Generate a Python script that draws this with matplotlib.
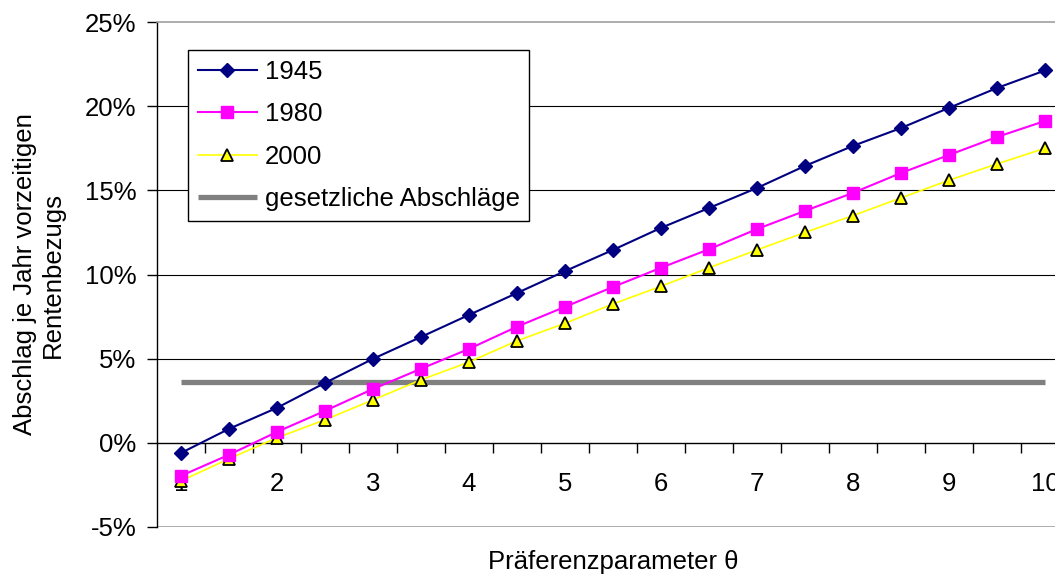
import matplotlib.pyplot as plt
from matplotlib.ticker import FixedLocator, FuncFormatter

plt.rcParams['font.family'] = ['Liberation Sans', 'DejaVu Sans']

# Praeferenzparameter theta (category axis, 19 points)
theta = [1, 1.5, 2, 2.5, 3, 3.5, 4, 4.5, 5, 5.5, 6, 6.5, 7, 7.5, 8, 8.5, 9, 9.5, 10]

# Abschlag je Jahr in %
s1945 = [-0.6, 0.83, 2.08, 3.56, 4.99, 6.29, 7.6, 8.9, 10.2, 11.46,
         12.77, 13.95, 15.14, 16.45, 17.64, 18.7, 19.9, 21.08, 22.12]
s1980 = [-1.96, -0.71, 0.65, 1.9, 3.2, 4.4, 5.58, 6.9, 8.08, 9.26,
         10.4, 11.5, 12.7, 13.78, 14.85, 16.03, 17.1, 18.17, 19.12]
s2000 = [-2.26, -0.95, 0.3, 1.37, 2.55, 3.74, 4.8, 6.06, 7.1, 8.25,
         9.3, 10.4, 11.46, 12.5, 13.5, 14.55, 15.6, 16.57, 17.5]
gesetzlich = [3.6] * len(theta)

xticks = [1, 2, 3, 4, 5, 6, 7, 8, 9, 10]
yticks = [-5, 0, 5, 10, 15, 20, 25]

W, H = 1055, 574
fig = plt.figure(figsize=(W / 100, H / 100), dpi=100)
ax = fig.add_axes([157 / W, 1 - 527 / H, 912 / W, 505 / H])

# grid lines
for v in yticks[2:-1]:
    ax.axhline(v, color='black', lw=0.8, zorder=1)
ax.axhline(-5, color='#a0a0a0', lw=1.2, zorder=1)

ax.plot(theta, gesetzlich, color='#808080', lw=3.8, solid_capstyle='butt',
        label='gesetzliche Abschläge', zorder=2)
ax.plot(theta, s2000, color='#ffff00', lw=1.2, marker='^', ms=9,
        mfc='#ffff00', mec='black', mew=1.3, label='2000', zorder=4)
ax.plot(theta, s1980, color='#ff00ff', lw=1.5, marker='s', ms=8,
        mfc='#ff00ff', mec='#ff00ff', label='1980', zorder=5)
ax.plot(theta, s1945, color='#000080', lw=1.5, marker='D', ms=7,
        mfc='#000080', mec='#000080', label='1945', zorder=6)

ax.set_xlim(0.75, 10.25)
ax.set_ylim(-5, 25)

ax.spines['bottom'].set_position(('data', 0))
ax.spines['bottom'].set_color('black')
ax.spines['bottom'].set_linewidth(1.0)
ax.spines['top'].set_color('#a0a0a0')
ax.spines['top'].set_linewidth(1.2)
ax.spines['right'].set_visible(False)
ax.spines['left'].set_linewidth(1.0)

ax.xaxis.set_major_locator(FixedLocator(xticks))
ax.xaxis.set_minor_locator(FixedLocator([t + 0.25 for t in theta[:-1]]))
ax.tick_params(axis='x', which='major', length=0, pad=21, labelsize=18.5)
ax.tick_params(axis='x', which='minor', length=7, width=1, direction='out')
ax.set_yticks(yticks)
ax.yaxis.set_major_formatter(FuncFormatter(lambda v, p: f'{v:.0f}%'))
ax.tick_params(axis='y', length=7, width=1, pad=8, labelsize=18.5)

ax.set_xlabel('Präferenzparameter θ', fontsize=18.5, labelpad=39)
ax.set_ylabel('Abschlag je Jahr vorzeitigen\nRentenbezugs', fontsize=18.5,
              linespacing=1.21, labelpad=14)

h, l = ax.get_legend_handles_labels()
order = [3, 2, 1, 0]
leg = ax.legend([h[i] for i in order], [l[i] for i in order],
                loc='upper left', bbox_to_anchor=(188 / W, 1 - 50 / H),
                bbox_transform=fig.transFigure, fontsize=18.5, frameon=True,
                fancybox=False, edgecolor='black', framealpha=1,
                handlelength=2.3, handletextpad=0.3, labelspacing=0.72,
                borderpad=0.38, borderaxespad=0)
leg.get_frame().set_linewidth(1.0)

fig.savefig('out.png', dpi=100)
